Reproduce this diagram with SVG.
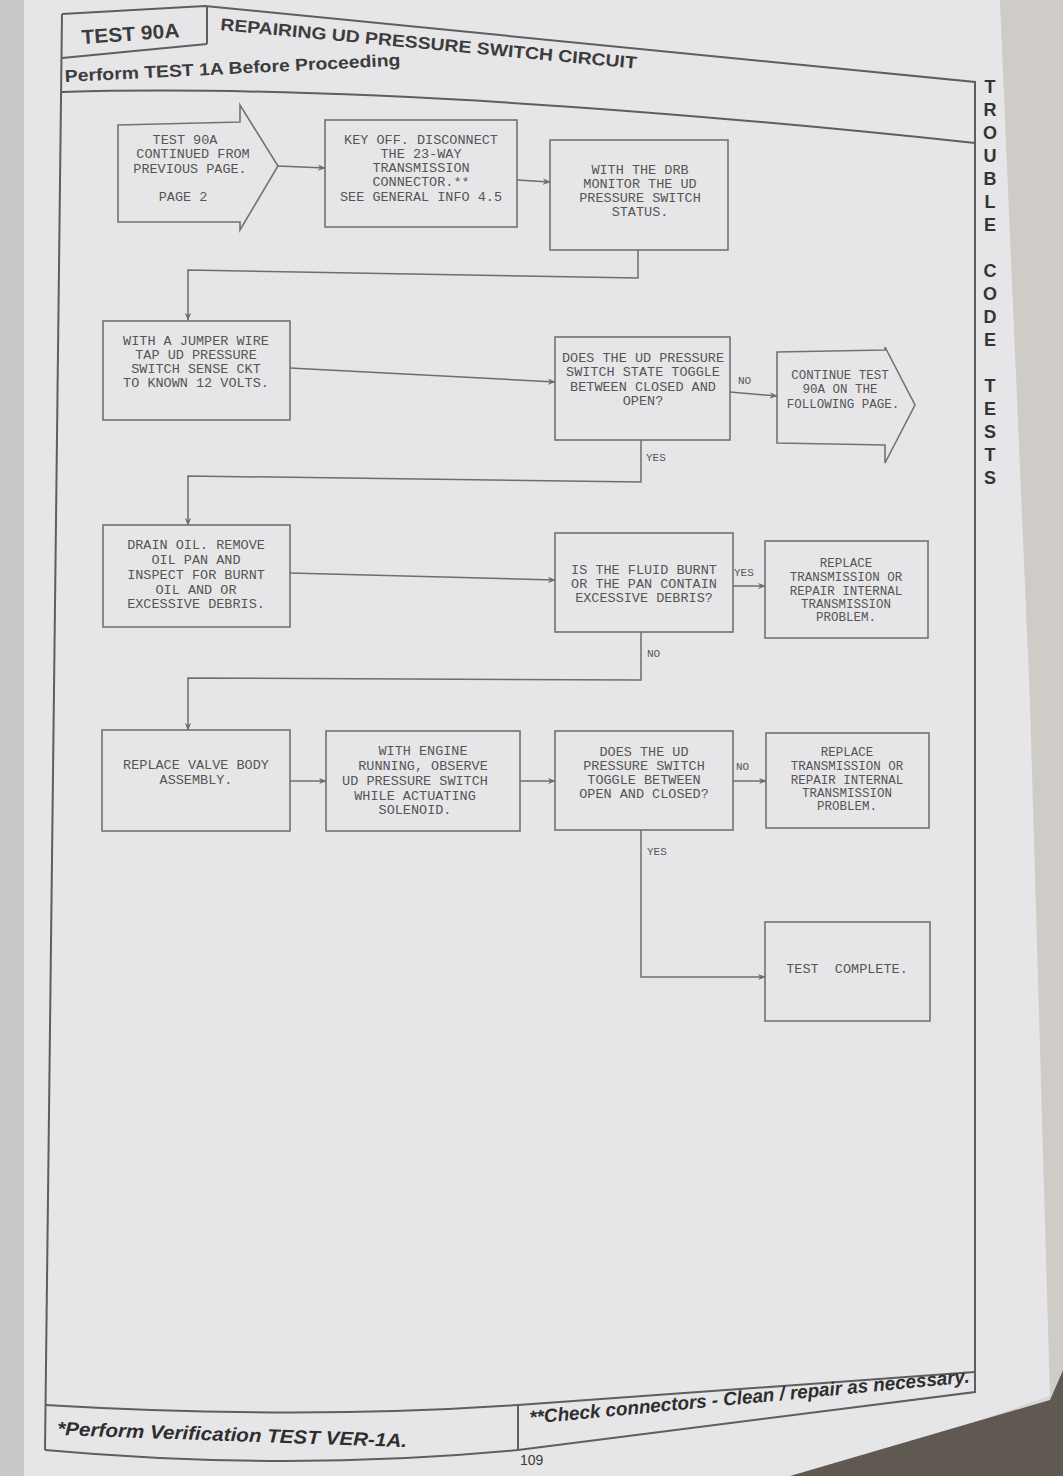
<svg xmlns="http://www.w3.org/2000/svg" width="1063" height="1476" viewBox="0 0 1063 1476">
<style>
.bx{fill:none;stroke:#727272;stroke-width:1.6}
.fr{fill:none;stroke:#5e5e5e;stroke-width:2}
.t{font-family:"Liberation Mono","Courier New",monospace;font-size:13.5px;fill:#555;text-anchor:middle}
.s{font-size:12.5px}
.lb{font-family:"Liberation Mono",monospace;font-size:11px;fill:#555}
.hd{font-family:"Liberation Sans",Arial,sans-serif;font-weight:bold;fill:#3c3c3c}
.ft{font-family:"Liberation Sans",Arial,sans-serif;font-weight:bold;font-style:italic;fill:#2e2e2e;font-size:19px}
.vt{font-family:"Liberation Sans",Arial,sans-serif;font-weight:bold;font-size:18px;fill:#353535;text-anchor:middle}
.cn{fill:none;stroke:#6e6e6e;stroke-width:1.5}
</style>
<defs>
<marker id="ar" viewBox="0 0 10 10" refX="9" refY="5" markerWidth="8" markerHeight="8" orient="auto" markerUnits="userSpaceOnUse">
<path d="M0,1 L10,5 L0,9 L3,5 Z" fill="#6e6e6e"/>
</marker>
</defs>
<!-- background -->
<rect x="0" y="0" width="1063" height="1476" fill="#d6d5d7"/>
<polygon points="24,0 1000,0 1030,700 1052,1395 820,1476 24,1476" fill="#e6e6e8"/>
<rect x="0" y="0" width="24" height="1476" fill="#c9c8ca"/>
<polygon points="1063,1370 1063,1476 790,1476 1050,1400" fill="#5f5952"/>
<polygon points="1000,0 1063,0 1063,1370 1050,1398 1030,700" fill="#cfccc8"/>

<!-- frame -->
<g id="frame">
<path class="fr" d="M62,14 L205,6 L975,82 L975,1372"/>
<path class="fr" d="M62,14 L45,1450"/>
<path class="fr" d="M62,58 L207,44 M207,6 L207,44"/>
<path class="fr" d="M62,92 Q400,82 975,143"/>
<path class="fr" d="M45,1405 Q300,1420 518,1405 L975,1372"/>
<path class="fr" d="M45,1450 Q290,1472 518,1450 L975,1392 L975,1372"/>
<path class="fr" d="M518,1405 L518,1450"/>
</g>
<g id="header">
<text class="hd" font-size="20" x="82" y="44" textLength="98" lengthAdjust="spacingAndGlyphs" transform="rotate(-4 82 44)">TEST 90A</text>
<text class="hd" font-size="17" x="220" y="30" textLength="418" lengthAdjust="spacingAndGlyphs" transform="rotate(5.3 220 30)">REPAIRING UD PRESSURE SWITCH CIRCUIT</text>
<text class="hd" font-size="17" x="65" y="82" textLength="336" lengthAdjust="spacingAndGlyphs" transform="rotate(-2.8 65 82)">Perform TEST 1A Before Proceeding</text>
</g>
<g id="sidebar">
<text class="vt" x="990" y="93">T</text>
<text class="vt" x="990" y="116">R</text>
<text class="vt" x="990" y="139">O</text>
<text class="vt" x="990" y="162">U</text>
<text class="vt" x="990" y="185">B</text>
<text class="vt" x="990" y="208">L</text>
<text class="vt" x="990" y="231">E</text>
<text class="vt" x="990" y="277">C</text>
<text class="vt" x="990" y="300">O</text>
<text class="vt" x="990" y="323">D</text>
<text class="vt" x="990" y="346">E</text>
<text class="vt" x="990" y="392">T</text>
<text class="vt" x="990" y="415">E</text>
<text class="vt" x="990" y="438">S</text>
<text class="vt" x="990" y="461">T</text>
<text class="vt" x="990" y="484">S</text>
</g>
<g id="footer">
<text class="ft" x="57" y="1435" textLength="350" lengthAdjust="spacingAndGlyphs" transform="rotate(2 57 1435)">*Perform Verification TEST VER-1A.</text>
<text class="ft" x="530" y="1424" textLength="442" lengthAdjust="spacingAndGlyphs" transform="rotate(-5.4 530 1424)">**Check connectors - Clean / repair as necessary.</text>
<text font-family="Liberation Sans,Arial,sans-serif" font-size="14" fill="#3a3a3a" x="520" y="1465">109</text>
</g>

<!-- connectors -->
<g id="connectors">
<path class="cn" d="M278,166 L325,168" marker-end="url(#ar)"/>
<path class="cn" d="M517,180 L550,182" marker-end="url(#ar)"/>
<path class="cn" d="M638,250 L638,278 L188,270 L188,320" marker-end="url(#ar)"/>
<path class="cn" d="M290,368 L555,382" marker-end="url(#ar)"/>
<path class="cn" d="M730,392 L777,396" marker-end="url(#ar)"/>
<path class="cn" d="M641,440 L641,482 L188,476 L188,525" marker-end="url(#ar)"/>
<path class="cn" d="M290,573 L555,580" marker-end="url(#ar)"/>
<path class="cn" d="M733,586 L765,586" marker-end="url(#ar)"/>
<path class="cn" d="M641,632 L641,680 L188,678 L188,730" marker-end="url(#ar)"/>
<path class="cn" d="M290,781 L326,781" marker-end="url(#ar)"/>
<path class="cn" d="M520,781 L555,781" marker-end="url(#ar)"/>
<path class="cn" d="M733,781 L766,781" marker-end="url(#ar)"/>
<path class="cn" d="M641,830 L641,977 L765,977" marker-end="url(#ar)"/>
<text class="lb" x="738" y="384">NO</text>
<text class="lb" x="646" y="461">YES</text>
<text class="lb" x="734" y="576">YES</text>
<text class="lb" x="647" y="657">NO</text>
<text class="lb" x="736" y="770">NO</text>
<text class="lb" x="647" y="855">YES</text>
</g>

<!-- nodes -->
<g id="n1">
<polygon class="bx" points="118,125 240,122 240,105 278,166 240,230 240,222 118,222"/>
<text class="t" x="185" y="144">TEST 90A</text>
<text class="t" x="193" y="158">CONTINUED FROM</text>
<text class="t" x="190" y="173">PREVIOUS PAGE.</text>
<text class="t" x="183" y="201">PAGE 2</text>
</g>
<g id="n2">
<rect class="bx" x="325" y="120" width="192" height="107"/>
<text class="t" x="421" y="144">KEY OFF. DISCONNECT</text>
<text class="t" x="421" y="158">THE 23-WAY</text>
<text class="t" x="421" y="172">TRANSMISSION</text>
<text class="t" x="421" y="186">CONNECTOR.**</text>
<text class="t" x="421" y="201">SEE GENERAL INFO 4.5</text>
</g>
<g id="n3">
<rect class="bx" x="550" y="140" width="178" height="110"/>
<text class="t" x="640" y="174">WITH THE DRB</text>
<text class="t" x="640" y="188">MONITOR THE UD</text>
<text class="t" x="640" y="202">PRESSURE SWITCH</text>
<text class="t" x="640" y="216">STATUS.</text>
</g>
<g id="n4">
<rect class="bx" x="103" y="321" width="187" height="99"/>
<text class="t" x="196" y="345">WITH A JUMPER WIRE</text>
<text class="t" x="196" y="359">TAP UD PRESSURE</text>
<text class="t" x="196" y="373">SWITCH SENSE CKT</text>
<text class="t" x="196" y="387">TO KNOWN 12 VOLTS.</text>
</g>
<g id="n5">
<rect class="bx" x="555" y="337" width="175" height="103"/>
<text class="t" x="643" y="362">DOES THE UD PRESSURE</text>
<text class="t" x="643" y="376">SWITCH STATE TOGGLE</text>
<text class="t" x="643" y="391">BETWEEN CLOSED AND</text>
<text class="t" x="643" y="405">OPEN?</text>
</g>
<g id="n6">
<polygon class="bx" points="777,352 885,350 885,347 915,405 885,463 885,445 777,443"/>
<text class="t s" x="840" y="379">CONTINUE TEST</text>
<text class="t s" x="840" y="393">90A ON THE</text>
<text class="t s" x="843" y="408">FOLLOWING PAGE.</text>
</g>
<g id="n7">
<rect class="bx" x="103" y="525" width="187" height="102"/>
<text class="t" x="196" y="549">DRAIN OIL. REMOVE</text>
<text class="t" x="196" y="564">OIL PAN AND</text>
<text class="t" x="196" y="579">INSPECT FOR BURNT</text>
<text class="t" x="196" y="594">OIL AND OR</text>
<text class="t" x="196" y="608">EXCESSIVE DEBRIS.</text>
</g>
<g id="n8">
<rect class="bx" x="555" y="533" width="178" height="99"/>
<text class="t" x="644" y="574">IS THE FLUID BURNT</text>
<text class="t" x="644" y="588">OR THE PAN CONTAIN</text>
<text class="t" x="644" y="602">EXCESSIVE DEBRIS?</text>
</g>
<g id="n9">
<rect class="bx" x="765" y="541" width="163" height="97"/>
<text class="t s" x="846" y="567">REPLACE</text>
<text class="t s" x="846" y="581">TRANSMISSION OR</text>
<text class="t s" x="846" y="595">REPAIR INTERNAL</text>
<text class="t s" x="846" y="608">TRANSMISSION</text>
<text class="t s" x="846" y="621">PROBLEM.</text>
</g>
<g id="n10">
<rect class="bx" x="102" y="730" width="188" height="101"/>
<text class="t" x="196" y="769">REPLACE VALVE BODY</text>
<text class="t" x="196" y="784">ASSEMBLY.</text>
</g>
<g id="n11">
<rect class="bx" x="326" y="731" width="194" height="100"/>
<text class="t" x="423" y="755">WITH ENGINE</text>
<text class="t" x="423" y="770">RUNNING, OBSERVE</text>
<text class="t" x="415" y="785">UD PRESSURE SWITCH</text>
<text class="t" x="415" y="800">WHILE ACTUATING</text>
<text class="t" x="415" y="814">SOLENOID.</text>
</g>
<g id="n12">
<rect class="bx" x="555" y="731" width="178" height="99"/>
<text class="t" x="644" y="756">DOES THE UD</text>
<text class="t" x="644" y="770">PRESSURE SWITCH</text>
<text class="t" x="644" y="784">TOGGLE BETWEEN</text>
<text class="t" x="644" y="798">OPEN AND CLOSED?</text>
</g>
<g id="n13">
<rect class="bx" x="766" y="733" width="163" height="95"/>
<text class="t s" x="847" y="756">REPLACE</text>
<text class="t s" x="847" y="770">TRANSMISSION OR</text>
<text class="t s" x="847" y="784">REPAIR INTERNAL</text>
<text class="t s" x="847" y="797">TRANSMISSION</text>
<text class="t s" x="847" y="810">PROBLEM.</text>
</g>
<g id="n14">
<rect class="bx" x="765" y="922" width="165" height="99"/>
<text class="t" font-size="11.5" x="847" y="973" xml:space="preserve">TEST  COMPLETE.</text>
</g>
</svg>
